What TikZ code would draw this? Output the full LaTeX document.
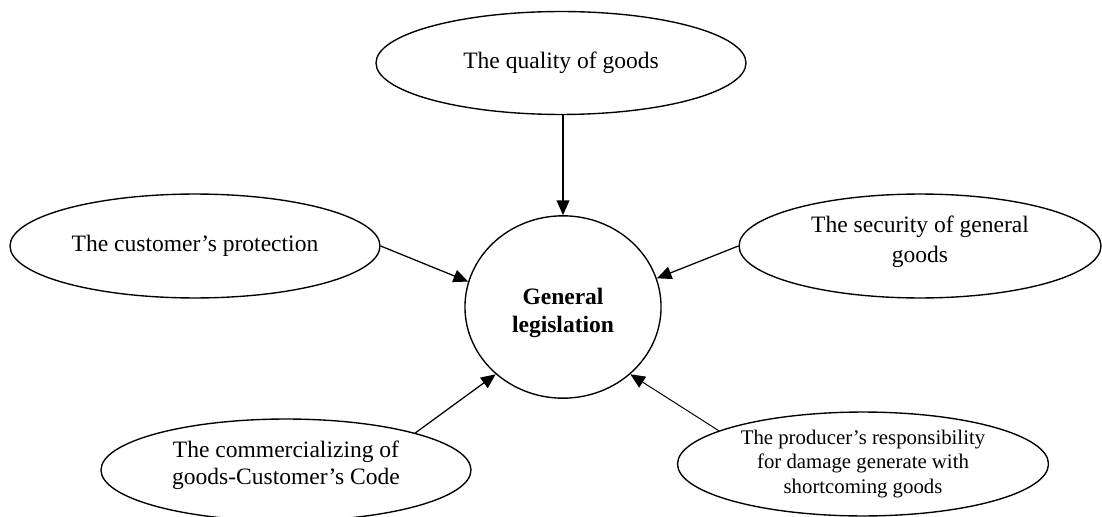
\documentclass[tikz,border=0pt]{standalone}
\usepackage{fontspec}
\setmainfont{Liberation Serif}
\usetikzlibrary{shapes.geometric,arrows.meta}

\begin{document}
\begin{tikzpicture}[x=0.51pt, y=-0.51pt,
    topic/.style={draw, ellipse, line width=0.7pt, inner sep=0pt, align=center,
      font=\fontsize{12}{13.8}\selectfont},
    hub/.style={draw, ellipse, line width=0.7pt, inner sep=0pt, align=center,
      minimum width=100pt, minimum height=93pt,
      font=\fontsize{12}{14.3}\selectfont\bfseries},
    link/.style={-{Triangle[length=7.5pt, width=6.5pt]}, line width=0.65pt}]
    \useasboundingbox (0, 0) rectangle (1102, 517);
    % centre
    \node[hub, text height=29pt] (gen) at (563, 307) {General\\legislation};
    % the five fields around it
    \node[topic, minimum width=188.7pt, minimum height=52.5pt] (quality) at (561, 63) {The quality of goods};
    \node[topic, minimum width=188.7pt, minimum height=53pt] (protect) at (195, 246) {The customer's protection};
    \node[topic, minimum width=184.6pt, minimum height=53pt, text depth=6.8pt,
      font=\fontsize{12}{15.3}\selectfont] (secur) at (920, 246) {The security of general\\goods};
    \node[topic, minimum width=188.7pt, minimum height=52pt, text depth=7.7pt] (commerce) at (286, 470) {The commercializing of\\goods-Customer's Code};
    \node[topic, minimum width=189.2pt, minimum height=53pt,
      font=\fontsize{10.6}{12.3}\selectfont] (produc) at (863, 464) {The producer's responsibility\\for damage generate with\\shortcoming goods};
    % arrows
    \draw[link] (quality.south -| gen.north) -- (gen.north);
    \draw[link] (protect.east) -- (gen.165);
    \draw[link] (secur.west) -- (gen.17);
    \draw[link] (commerce.16) -- (gen.225);
    \draw[link, line width=0.5pt] (produc.167) -- (gen.315);
\end{tikzpicture}
\end{document}
